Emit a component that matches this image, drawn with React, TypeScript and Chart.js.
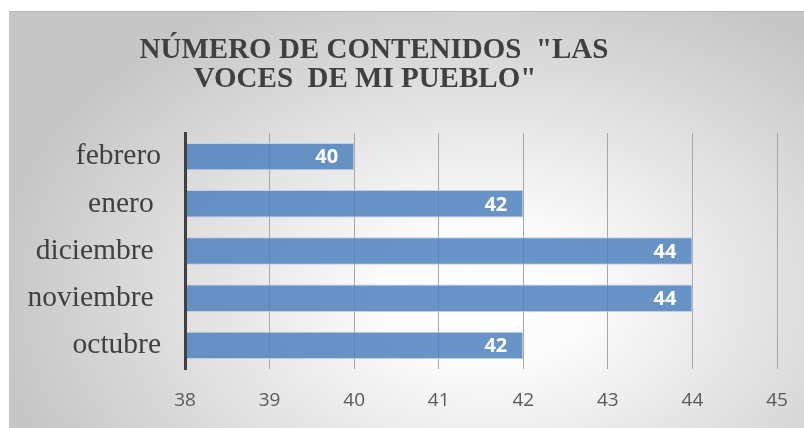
import React, { useEffect, useRef } from "react";
import { Chart, registerables } from "chart.js";

Chart.register(...registerables);

const titleLines = ["NÚMERO DE CONTENIDOS  \"LAS", "VOCES  DE MI PUEBLO\""];
const categories = ["febrero", "enero ", "diciembre ", "noviembre ", "octubre"];
const contenidos = [40, 42, 44, 44, 42];
const xMin = 38;
const xMax = 45;

const LABEL_FONT = "bold 20px \"Open Sans\", sans-serif";

const labelPlugin = {
  id: "barLabels",
  afterDatasetsDraw(chart: any) {
    const ctx = chart.ctx;
    const meta = chart.getDatasetMeta(0);
    ctx.save();
    ctx.font = LABEL_FONT;
    ctx.fillStyle = "#ffffff";
    ctx.textAlign = "right";
    ctx.textBaseline = "middle";
    meta.data.forEach((el: any, i: number) => {
      ctx.fillText(String(contenidos[i]), el.x - 16, el.y + 1);
    });
    ctx.restore();
  },
};

const titleStyle: React.CSSProperties = {
  position: "absolute",
  left: 0,
  margin: 0,
  fontFamily: "'Liberation Serif', 'Times New Roman', serif",
  fontWeight: "bold",
  fontSize: 29,
  lineHeight: "29px",
  color: "#404040",
  textAlign: "center",
  whiteSpace: "pre",
};

export default function App() {
  const ref = useRef<HTMLCanvasElement>(null);
  useEffect(() => {
    if (!ref.current) return;
    const chart = new Chart(ref.current, {
      type: "bar",
      data: {
        labels: categories,
        datasets: [
          {
            data: contenidos,
            backgroundColor: "rgba(79,129,189,0.85)",
            borderColor: "rgba(190,208,232,1)",
            borderWidth: 1,
            barPercentage: 0.58,
            categoryPercentage: 1,
          },
        ],
      },
      options: {
        indexAxis: "y",
        responsive: false,
        animation: false,
        layout: { padding: { top: 121, right: 27, left: 0, bottom: 0 } },
        plugins: {
          legend: { display: false },
          title: { display: false },
          tooltip: { enabled: false },
        },
        scales: {
          x: {
            min: xMin,
            max: xMax,
            ticks: {
              stepSize: 1,
              color: "#595959",
              font: { family: "'Open Sans', sans-serif", size: 19 },
              padding: 20,
            },
            grid: { color: "#a6a6a6", lineWidth: 1, drawTicks: false },
            border: { display: false },
            afterFit: (s: any) => {
              s.height = 59;
              s.paddingLeft = 0;
              s.paddingRight = 0;
            },
          },
          y: {
            ticks: {
              color: "#404040",
              font: { family: "'Liberation Serif', 'Times New Roman', serif", size: 29.5 },
              padding: 24,
            },
            grid: { display: false, drawTicks: false },
            border: { display: true, color: "#404040", width: 3, z: 1 },
            afterFit: (s: any) => {
              s.width = 176;
              s.paddingTop = 0;
              s.paddingBottom = 0;
            },
          },
        },
      },
      plugins: [labelPlugin],
    });
    return () => chart.destroy();
  }, []);
  return (
    <div
      style={{
        position: "absolute",
        left: 9,
        top: 11,
        width: 795,
        height: 417,
        boxSizing: "border-box",
        borderTop: "1px solid #b8b8b8",
        background:
          "radial-gradient(ellipse 62% 80% at 60% 68%, #ffffff 0%, #fbfbfb 22%, #c6c6c6 100%)",
      }}
    >
      <canvas ref={ref} width={795} height={416} style={{ display: "block" }} />
      <div style={{ ...titleStyle, top: 22, width: 730 }}>{titleLines[0]}</div>
      <div style={{ ...titleStyle, top: 51, width: 712 }}>{titleLines[1]}</div>
    </div>
  );
}
